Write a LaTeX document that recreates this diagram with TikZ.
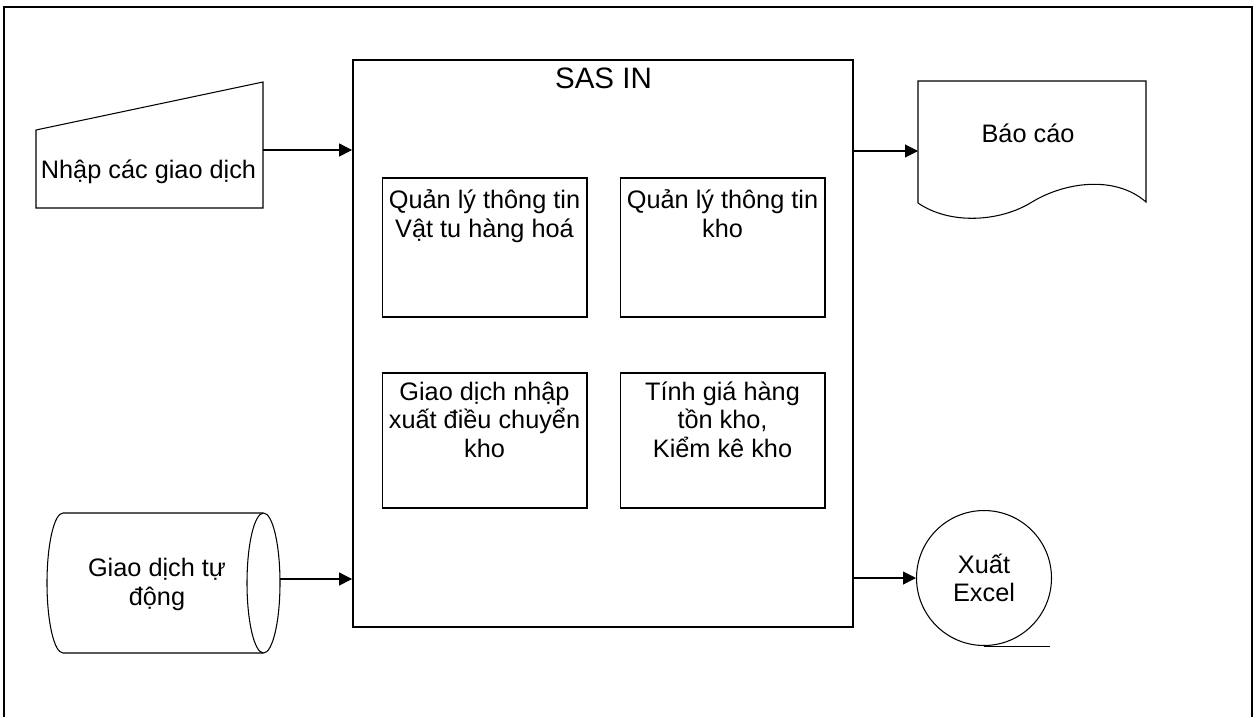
\documentclass[tikz,border=0pt]{standalone}
\usepackage{fontspec}
\setmainfont{Liberation Sans}
\usetikzlibrary{arrows.meta}
\tikzset{
  box/.style={draw, line width=0.6pt, minimum width=4.1cm, inner sep=0pt},
  boxtext/.style={anchor=base, align=center, inner sep=0pt, font=\fontsize{14.4}{16.2}\selectfont},
  link/.style={line width=0.6pt, -{Triangle[length=0.26cm, width=0.26cm]}},
  thinline/.style={line width=0.6pt},
}
\begin{document}
\begin{tikzpicture}[x=0.02cm, y=-0.02cm]
        \useasboundingbox (0,0) rectangle (1256,717);
        \draw[line width=1.5pt] (4,717) -- (4,7) -- (1252,7) -- (1252,717);

        % main box
        \node[draw, line width=1.1pt, minimum width=10cm, minimum height=11.34cm, inner sep=0pt] (sas) at (603,343.5) {};
        \node[anchor=base, inner sep=0pt, font=\fontsize{16.8}{20}\selectfont] (title) at (603.5,88) {SAS IN};

        \node[box, minimum height=2.78cm] (qlvt) at (484.5,247.5) {};
        \node[box, minimum height=2.78cm] (qlkho) at (722.5,247.5) {};
        \node[box, minimum height=2.7cm] (gdnx) at (484.5,440.5) {};
        \node[box, minimum height=2.7cm] (tinhgia) at (722.5,440.5) {};

        % base = last line
        \node[boxtext] (qlvtT) at (484.5,237) {Quản lý thông tin\\Vật tu hàng hoá};
        \node[boxtext] (qlkhoT) at (722.5,237) {Quản lý thông tin\\kho};
        \node[boxtext] (gdnxT) at (484.5,457) {Giao dịch nhập\\xuất điều chuyển\\kho};
        \node[boxtext] (tinhgiaT) at (722.5,457) {Tính giá hàng\\tồn kho,\\Kiểm kê kho};

        % inputs
        \draw[thinline] (36,130) -- (263,82) -- (263,208) -- (36,208) -- cycle;
        \node[boxtext] (nhap) at (148.5,178) {Nhập các giao dịch};
        \coordinate (nhapR) at (263,150);
        \draw[link] (nhapR) -- (nhapR -| sas.west);

        \draw[thinline] (263,513) -- (63,513) arc[start angle=90, end angle=270, x radius=0.32cm, y radius=1.4cm] -- (263,653);
        \draw[thinline] (263.5,583) ellipse[x radius=0.33cm, y radius=1.4cm];
        \node[boxtext] (gdtd) at (157,605) {Giao dịch tự\\động};
        \coordinate (gdtdR) at (280,579);
        \draw[link] (gdtdR) -- (gdtdR -| sas.west);

        % outputs
        \draw[thinline] (918,203) -- (918,81) -- (1146,81) -- (1146,202)
            .. controls (1115,175) and (1065,182) .. (1032,202)
            .. controls (1000,222) and (950,225) .. (918,203);
        \node[boxtext] (baocao) at (1028,142) {Báo cáo};
        \coordinate (baocaoL) at (918,151);
        \draw[link] (sas.east |- baocaoL) -- (baocaoL);

        \node[draw, circle, thinline, minimum size=2.7cm, inner sep=0pt, align=center, font=\fontsize{14.4}{16.2}\selectfont] (excel) at (984,578) {Xuất\\Excel};
        \draw[thinline] (excel.south) -- ++(66,0);
        \draw[link] (sas.east |- excel.west) -- (excel.west);
    \end{tikzpicture}
\end{document}
